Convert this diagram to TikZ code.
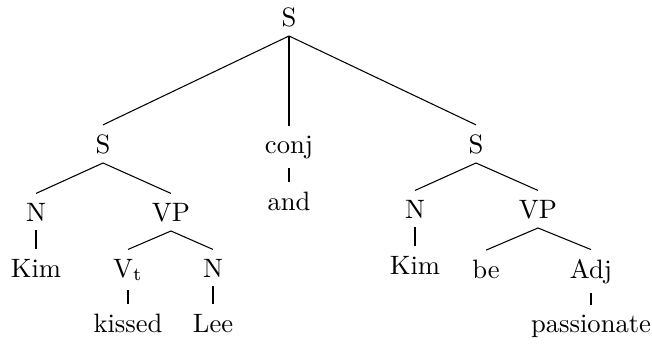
\documentclass[tikz,border=0pt]{standalone}
\usepackage{amsmath}
\usepackage{tikz}

\begin{document}
\begin{tikzpicture}[x=0.376pt,y=-0.376pt,lbl/.style={anchor=base}]
\useasboundingbox (0,0) rectangle (652,343);
\node[lbl] (top) at (289,26) {S};
\node[lbl] (sl) at (103,153) {S};
\node[lbl] (cj) at (289,153) {conj};
\node[lbl] (sr) at (476,153) {S};
\node[lbl] (nl) at (36,221) {N};
\node[lbl] (vpl) at (171,221) {VP};
\node[lbl] (and) at (289,210) {and};
\node[lbl] (nr) at (415,218) {N};
\node[lbl] (vpr) at (538,218) {VP};
\node[lbl] (kiml) at (36,277) {Kim};
\node[lbl] (vt) at (128,277) {V$_{\mathrm{t}}$};
\node[lbl] (nlee) at (213,277) {N};
\node[lbl] (kimr) at (415,274) {Kim};
\node[lbl] (be) at (486,278) {be};
\node[lbl] (adj) at (591,278) {Adj};
\node[lbl] (kiss) at (128,332) {kissed};
\node[lbl] (lee) at (213,332) {Lee};
\node[lbl] (pas) at (591,332) {passionate};
% branches
\draw (top.south)--(sl.north);
\draw (top.south)--(cj.north);
\draw (top.south)--(sr.north);
\draw (sl.south)--(nl.north);
\draw (sl.south)--(vpl.north);
\draw (cj.south)--(and.north);
\draw (sr.south)--(nr.north);
\draw (sr.south)--(vpr.north);
\draw (nl.south)--(kiml.north);
\draw (vpl.south)--(vt.north);
\draw (vpl.south)--(nlee.north);
\draw (nr.south)--(kimr.north);
\draw (vpr.south)--(be.north);
\draw (vpr.south)--(adj.north);
\draw (vt.south)--(kiss.north);
\draw (nlee.south)--(lee.north);
\draw (adj.south)--(pas.north);
\end{tikzpicture}
\end{document}
